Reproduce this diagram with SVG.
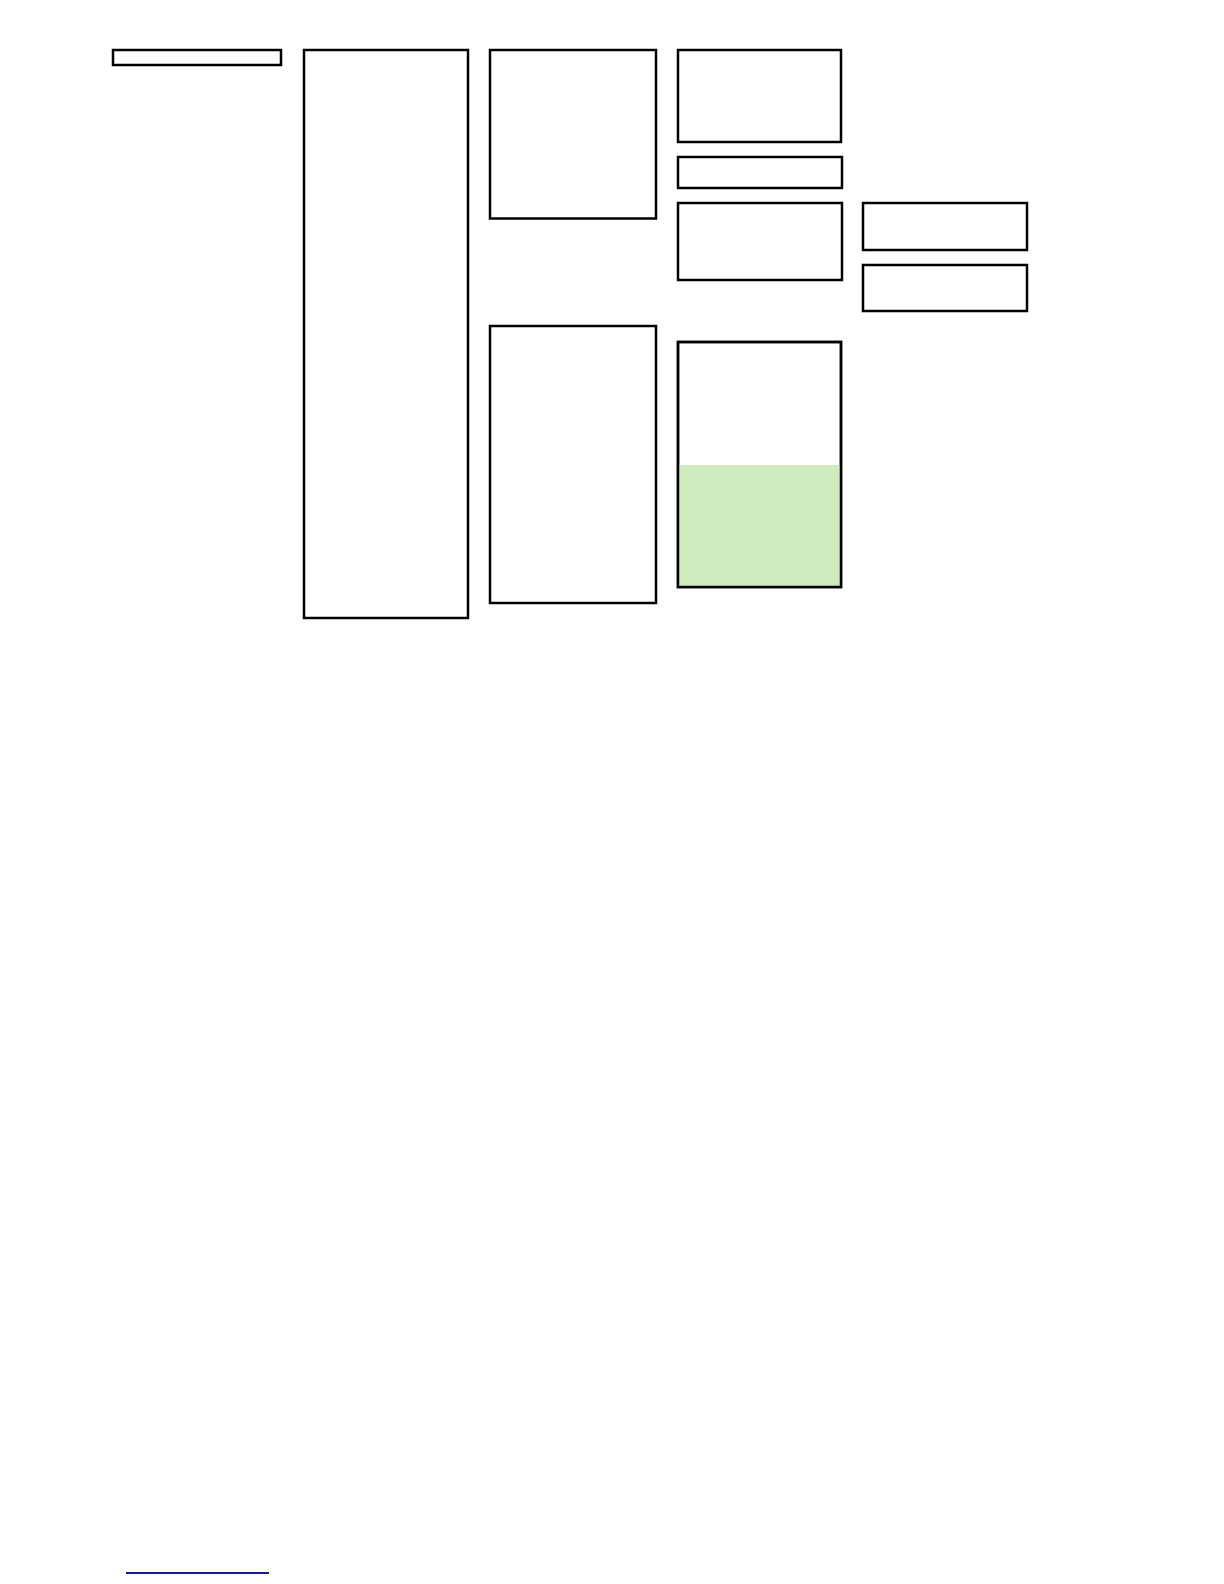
<svg xmlns="http://www.w3.org/2000/svg" width="1224" height="1584" viewBox="0 0 1224 1584">
<style>
.box{fill:#ffffff;stroke:#000000;stroke-width:2.5}
.frame{fill:none;stroke:#000000;stroke-width:2.5}
.fillg{fill:#cfeabd;stroke:none}
</style>
<rect x="0" y="0" width="1224" height="1584" fill="#ffffff"/>
<g id="node-b1"><rect class="box" x="113" y="50" width="168" height="15"/></g>
<g id="node-b2"><rect class="box" x="304" y="50" width="164" height="568"/></g>
<g id="node-b3"><rect class="box" x="490" y="50" width="166" height="168.5"/></g>
<g id="node-b3b"><rect class="box" x="490" y="326" width="166" height="277"/></g>
<g id="node-b4a"><rect class="box" x="678" y="50" width="163" height="92"/></g>
<g id="node-b4b"><rect class="box" x="678" y="157" width="164" height="31"/></g>
<g id="node-b4c"><rect class="box" x="678" y="203" width="164" height="77"/></g>
<g id="node-b4d"><rect class="box" x="678" y="342" width="163" height="245"/><rect class="fillg" x="679" y="465" width="161" height="121"/><rect class="frame" x="678" y="342" width="163" height="245"/></g>
<g id="node-b5a"><rect class="box" x="863" y="203" width="164" height="47"/></g>
<g id="node-b5b"><rect class="box" x="863" y="265" width="164" height="46"/></g>
<g id="connectors"><line x1="126" y1="1573" x2="269" y2="1573" stroke="#1a1a8c" stroke-width="1.8"/></g>
</svg>
